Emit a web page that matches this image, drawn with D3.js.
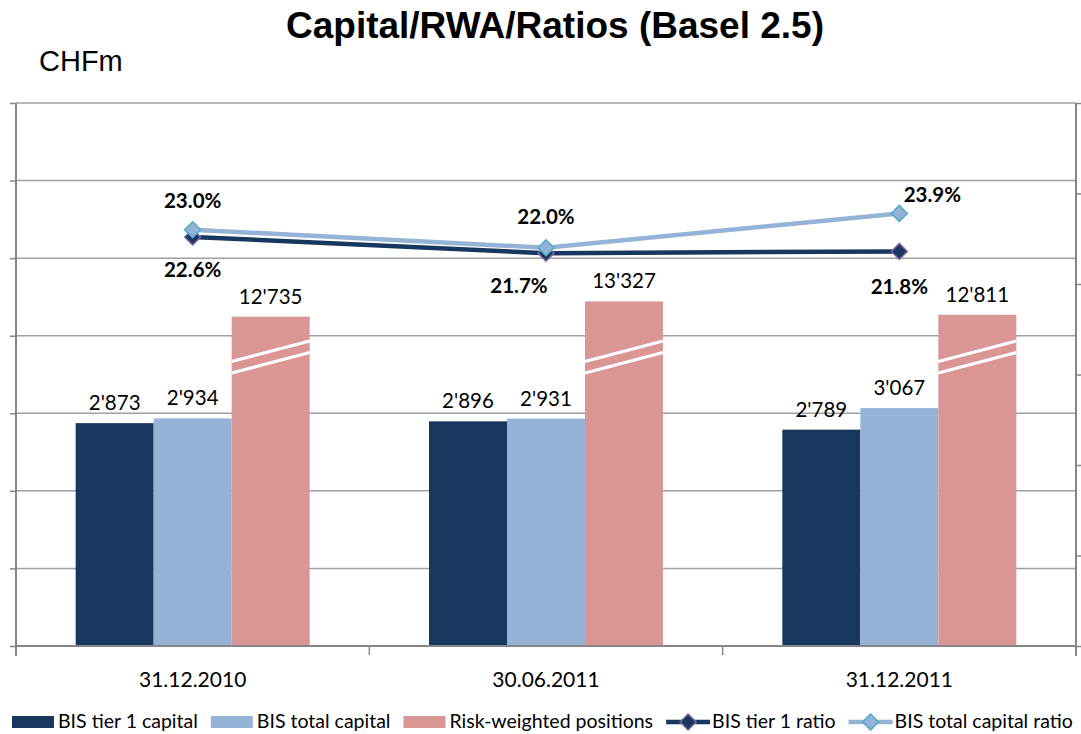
<!DOCTYPE html>
<html>
<head>
<meta charset="utf-8">
<script src="https://cdn.jsdelivr.net/npm/d3@7"></script>
<style>
  body { margin: 0; background: #fff; }
  svg { display: block; }
</style>
</head>
<body>
<svg id="chart" width="1081" height="734"></svg>
<script>
// data
var dates = ['31.12.2010', '30.06.2011', '31.12.2011']
var seriesNames = ['BIS tier 1 capital', 'BIS total capital', 'Risk-weighted positions']
var tier1Capital = [2873, 2896, 2789]
var totalCapital = [2934, 2931, 3067]
var rwaPositions = [12735, 13327, 12811]
var tier1Ratio = [22.6, 21.7, 21.8]
var totalRatio = [23.0, 22.0, 23.9]

;(function () {
  'use strict'

  var colors = {
    tier1: '#17375e',
    total: '#95b3d7',
    rwa: '#d99694',
    tier1Marker: '#8064a2',
    totalMarker: '#4bacc6'
  }
  var labelFont = 'Lato, "Open Sans", sans-serif'

  var left = 16, right = 1076, top = 103, bottom = 646
  var rwaCompress = 3 // RWA bars drawn on a broken (compressed) axis

  var svg = d3.select('#chart')

  var x0 = d3.scaleBand().domain(dates).range([left, right]).paddingInner(0).paddingOuter(0)
  var x1 = d3.scaleBand().domain(seriesNames).range([0, x0.bandwidth()]).paddingInner(0).paddingOuter(0.765)
  var y = d3.scaleLinear().domain([0, 7000]).range([bottom, top])
  var yR = d3.scaleLinear().domain([0, 30]).range([bottom, top])

  var fmt = d3.formatLocale({ decimal: '.', thousands: "'", grouping: [3], currency: ['', ''] }).format(',')

  // title
  svg.append('text')
    .attr('x', 555).attr('y', 38)
    .attr('text-anchor', 'middle')
    .style('font', 'bold 37px "Liberation Sans", Arial, sans-serif')
    .text('Capital/RWA/Ratios (Basel 2.5)')

  svg.append('text')
    .attr('x', 39).attr('y', 71)
    .style('font', '29px "Liberation Sans", Arial, sans-serif')
    .text('CHFm')

  // gridlines
  svg.append('g')
    .selectAll('line')
    .data(y.ticks(7).filter(function (d) { return d > 0 }))
    .enter().append('line')
    .attr('x1', left).attr('x2', right)
    .attr('y1', function (d) { return y(d) }).attr('y2', function (d) { return y(d) })
    .attr('stroke', '#a0a0a0').attr('stroke-width', 1.5)

  // left axis (no labels)
  var yAxis = svg.append('g')
    .attr('transform', 'translate(' + left + ',0)')
    .call(d3.axisLeft(y).ticks(7).tickSize(6).tickFormat(''))
  yAxis.select('.domain').attr('d', 'M0,' + top + 'V' + (bottom + 10))

  // right axis (no labels)
  var yRAxis = svg.append('g')
    .attr('transform', 'translate(' + right + ',0)')
    .call(d3.axisRight(yR).tickValues([0, 5, 10, 15, 20, 25, 30]).tickSize(6).tickFormat(''))
  yRAxis.select('.domain').attr('d', 'M0,' + top + 'V' + (bottom + 10))

  ;[yAxis, yRAxis].forEach(function (a) {
    a.selectAll('.domain').attr('stroke', '#868686').attr('stroke-width', 2)
    a.selectAll('.tick line').attr('stroke', '#868686').attr('stroke-width', 1.5)
  })

  // bars
  var rows = dates.map(function (d, i) {
    return [
      { date: d, key: seriesNames[0], value: tier1Capital[i], shown: tier1Capital[i], color: colors.tier1 },
      { date: d, key: seriesNames[1], value: totalCapital[i], shown: totalCapital[i], color: colors.total },
      { date: d, key: seriesNames[2], value: rwaPositions[i], shown: rwaPositions[i] / rwaCompress, color: colors.rwa, broken: true }
    ]
  })

  var groups = svg.append('g').selectAll('g')
    .data(rows)
    .enter().append('g')
    .attr('transform', function (d, i) { return 'translate(' + x0(dates[i]) + ',0)' })

  var bars = groups.selectAll('g.bar')
    .data(function (d) { return d })
    .enter().append('g').attr('class', 'bar')

  bars.append('rect')
    .attr('x', function (d) { return x1(d.key) })
    .attr('width', x1.bandwidth())
    .attr('y', function (d) { return y(d.shown) })
    .attr('height', function (d) { return bottom - y(d.shown) })
    .attr('fill', function (d) { return d.color })

  // axis break marks
  var yb = y(3680)
  bars.filter(function (d) { return d.broken }).each(function (d) {
    var g = d3.select(this)
    var bx = x1(d.key), bw = x1.bandwidth()
    ;[0, 11.5].forEach(function (off) {
      g.append('line')
        .attr('x1', bx).attr('y1', yb + 1 + off)
        .attr('x2', bx + bw).attr('y2', yb - 19.5 + off)
        .attr('stroke', '#fff').attr('stroke-width', 3.2)
    })
  })

  bars.append('text')
    .attr('x', function (d) { return x1(d.key) + x1.bandwidth() / 2 })
    .attr('y', function (d) { return y(d.shown) - 13 })
    .attr('text-anchor', 'middle')
    .style('font', '20.5px ' + labelFont)
    .attr('fill', '#000')
    .text(function (d) { return fmt(d.value) })

  // x axis
  var xAxis = svg.append('g')
    .attr('transform', 'translate(0,' + bottom + ')')
  xAxis.append('line')
    .attr('x1', left).attr('x2', right)
    .attr('stroke', '#868686').attr('stroke-width', 2)
  xAxis.selectAll('line.tk')
    .data(dates.slice(1))
    .enter().append('line').attr('class', 'tk')
    .attr('x1', function (d) { return x0(d) }).attr('x2', function (d) { return x0(d) })
    .attr('y1', 0).attr('y2', 9)
    .attr('stroke', '#868686').attr('stroke-width', 1.5)
  xAxis.selectAll('text')
    .data(dates)
    .enter().append('text')
    .attr('x', function (d) { return x0(d) + x0.bandwidth() / 2 })
    .attr('y', 41)
    .attr('text-anchor', 'middle')
    .style('font', '21px ' + labelFont)
    .text(function (d) { return d })

  // ratio lines
  var cx = function (d, i) { return x0(dates[i]) + x0.bandwidth() / 2 }
  var diamond = d3.symbol().type(d3.symbolSquare).size(128)

  var ratioSeries = [
    { name: 'BIS tier 1 ratio', values: tier1Ratio, line: colors.tier1, marker: colors.tier1Marker,
      offsets: [[0, 33], [-27, 33], [0, 35]] },
    { name: 'BIS total capital ratio', values: totalRatio, line: colors.total, marker: colors.totalMarker,
      offsets: [[0, -29], [0, -31], [33, -19]] }
  ]

  var line = d3.line()
    .x(cx)
    .y(function (d) { return yR(d) })

  ratioSeries.forEach(function (s) {
    var g = svg.append('g')
    g.append('path')
      .datum(s.values)
      .attr('d', line)
      .attr('fill', 'none')
      .attr('stroke', s.line)
      .attr('stroke-width', 4.5)
    g.selectAll('path.mk')
      .data(s.values)
      .enter().append('path').attr('class', 'mk')
      .attr('d', diamond)
      .attr('transform', function (d, i) { return 'translate(' + cx(d, i) + ',' + yR(d) + ') rotate(45)' })
      .attr('fill', s.line)
      .attr('stroke', s.marker)
      .attr('stroke-width', 1.5)
    g.selectAll('text')
      .data(s.values)
      .enter().append('text')
      .attr('x', function (d, i) { return cx(d, i) + s.offsets[i][0] })
      .attr('y', function (d, i) { return yR(d) + s.offsets[i][1] })
      .attr('dy', '0.35em')
      .attr('text-anchor', 'middle')
      .style('font', 'bold 20.5px ' + labelFont)
      .text(function (d) { return d.toFixed(1) + '%' })
  })

  // legend
  var legendItems = [
    { name: seriesNames[0], type: 'bar', color: colors.tier1 },
    { name: seriesNames[1], type: 'bar', color: colors.total },
    { name: seriesNames[2], type: 'bar', color: colors.rwa },
    { name: ratioSeries[0].name, type: 'line', color: colors.tier1, marker: colors.tier1Marker },
    { name: ratioSeries[1].name, type: 'line', color: colors.total, marker: colors.totalMarker }
  ]

  var legend = svg.append('g').attr('transform', 'translate(12,721)')
  var lx = 0
  legendItems.forEach(function (it) {
    var g = legend.append('g').attr('transform', 'translate(' + lx + ',0)')
    if (it.type === 'bar') {
      g.append('rect').attr('x', 0).attr('y', -5).attr('width', 42).attr('height', 12).attr('fill', it.color)
    } else {
      g.append('line').attr('x1', 0).attr('x2', 44).attr('y1', 1).attr('y2', 1)
        .attr('stroke', it.color).attr('stroke-width', 4.5)
      g.append('path').attr('d', diamond).attr('transform', 'translate(22,1) rotate(45)')
        .attr('fill', it.color).attr('stroke', it.marker).attr('stroke-width', 1.5)
    }
    var t = g.append('text')
      .attr('x', 46).attr('y', 0).attr('dy', '0.35em')
      .style('font', '19.5px ' + labelFont)
      .text(it.name)
    lx += 46 + t.node().getComputedTextLength() + 13
  })
})()
</script>
</body>
</html>
